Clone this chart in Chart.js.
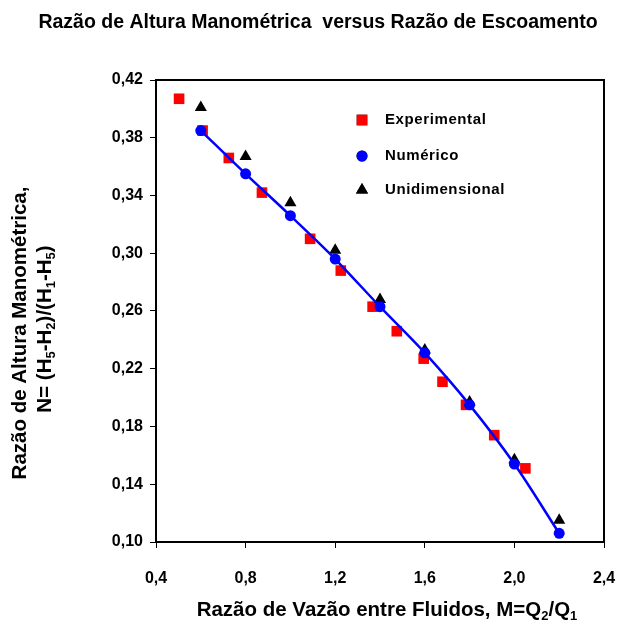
<!DOCTYPE html>
<html>
<head>
<meta charset="utf-8">
<script src="https://cdn.jsdelivr.net/npm/chart.js@4/dist/chart.umd.min.js"></script>
<style>
  body { margin: 0; background: #fff; }
  canvas { display: block; }
</style>
</head>
<body>
<canvas id="chart" width="631" height="626"></canvas>
<script>
// M = Q2/Q1 and N = (H5-H2)/(H1-H5)
const experimentalX = [0.503, 0.608, 0.725, 0.873, 1.088, 1.225, 1.367, 1.475, 1.595, 1.679, 1.784, 1.910, 2.049];
const experimentalY = [0.407, 0.385, 0.366, 0.342, 0.310, 0.288, 0.263, 0.246, 0.227, 0.211, 0.195, 0.174, 0.151];
const numericoX = [0.6, 0.8, 1.0, 1.2, 1.4, 1.6, 1.8, 2.0, 2.2];
const numericoY = [0.385, 0.355, 0.326, 0.296, 0.263, 0.231, 0.195, 0.154, 0.106];
const unidimX = [0.6, 0.8, 1.0, 1.2, 1.4, 1.6, 1.8, 2.0, 2.2];
const unidimY = [0.401, 0.367, 0.335, 0.302, 0.268, 0.233, 0.197, 0.157, 0.115];
const seriesNames = ['Experimental', 'Numérico', 'Unidimensional'];

const FONT = '"Liberation Sans", Arial, sans-serif';

function toPoints(xs, ys) {
    return xs.map((x, i) => ({ x: x, y: ys[i] }));
}

function commaFmt(digits) {
    return v => Number(v).toFixed(digits).replace('.', ',');
}

// draws text made of normal and subscript pieces, centred on cx
function drawRich(ctx, parts, cx, cy, size) {
    const subSize = Math.round(size * 0.62);
    let total = 0;
    parts.forEach(p => {
        ctx.font = 'bold ' + (p.sub ? subSize : size) + 'px ' + FONT;
        p.w = ctx.measureText(p.t).width;
        total += p.w;
    });
    let x = cx - total / 2;
    ctx.textAlign = 'left';
    ctx.textBaseline = 'middle';
    parts.forEach(p => {
        ctx.font = 'bold ' + (p.sub ? subSize : size) + 'px ' + FONT;
        ctx.fillText(p.t, x, p.sub ? cy + size * 0.3 : cy);
        x += p.w;
    });
}

const decorations = {
    id: 'decorations',
    afterDraw(chart) {
        const ctx = chart.ctx;
        const area = chart.chartArea;
        ctx.save();
        ctx.fillStyle = '#000';

        // frame round the plot
        ctx.strokeStyle = '#000';
        ctx.lineWidth = 2;
        ctx.strokeRect(area.left, area.top, area.right - area.left, area.bottom - area.top);

        // title
        ctx.font = 'bold 19.5px ' + FONT;
        ctx.textAlign = 'center';
        ctx.textBaseline = 'middle';
        ctx.fillText('Razão de Altura Manométrica  versus Razão de Escoamento', 318, 23);

        // x axis title
        drawRich(ctx, [
            { t: 'Razão de Vazão entre Fluidos, M=Q' }, { t: '2', sub: true },
            { t: '/Q' }, { t: '1', sub: true }
        ], 387, 610, 20.5);

        // y axis title, two lines
        ctx.save();
        ctx.translate(20, 333);
        ctx.rotate(-Math.PI / 2);
        drawRich(ctx, [{ t: 'Razão de Altura Manométrica,' }], 0, 0, 20.5);
        ctx.restore();
        ctx.save();
        ctx.translate(45, 329);
        ctx.rotate(-Math.PI / 2);
        drawRich(ctx, [
            { t: 'N= (H' }, { t: '5', sub: true }, { t: '-H' }, { t: '2', sub: true },
            { t: ')/(H' }, { t: '1', sub: true }, { t: '-H' }, { t: '5', sub: true }, { t: ')' }
        ], 0, 0, 20.5);
        ctx.restore();

        // legend inside the plot
        const rows = [120, 156, 190];
        chart.data.datasets.forEach((ds, i) => {
            Chart.helpers.drawPoint(ctx, {
                pointStyle: ds.pointStyle,
                radius: ds.pointRadius,
                borderWidth: 0
            }, 362, rows[i]);
            ctx.fillStyle = ds.pointBackgroundColor;
            ctx.fill();
            ctx.fillStyle = '#000';
            ctx.font = 'bold 15px ' + FONT;
            ctx.letterSpacing = '0.6px';
            ctx.textAlign = 'left';
            ctx.textBaseline = 'middle';
            ctx.fillText(seriesNames[i], 385, rows[i]);
            ctx.letterSpacing = '0px';
        });
        ctx.restore();
    }
};

new Chart(document.getElementById('chart').getContext('2d'), {
    type: 'scatter',
    data: {
        datasets: [
            {
                label: seriesNames[0],
                data: toPoints(experimentalX, experimentalY),
                pointStyle: 'rect',
                pointRadius: 7.5,
                pointBackgroundColor: '#ff0000',
                pointBorderWidth: 0,
                order: 3
            },
            {
                label: seriesNames[1],
                data: toPoints(numericoX, numericoY),
                pointStyle: 'circle',
                pointRadius: 5.5,
                pointBackgroundColor: '#0000ff',
                pointBorderWidth: 0,
                showLine: true,
                borderColor: '#0000ff',
                borderWidth: 2.5,
                tension: 0.3,
                order: 1
            },
            {
                label: seriesNames[2],
                data: toPoints(unidimX, unidimY),
                pointStyle: 'triangle',
                pointRadius: 7,
                pointBackgroundColor: '#000000',
                pointBorderWidth: 0,
                order: 2
            }
        ]
    },
    options: {
        responsive: false,
        animation: false,
        layout: { padding: { top: 80, right: 27, left: 0, bottom: 0 } },
        plugins: {
            legend: { display: false },
            title: { display: false },
            tooltip: { enabled: false }
        },
        scales: {
            x: {
                type: 'linear',
                min: 0.4,
                max: 2.4,
                afterFit: s => { s.height = 84; s.paddingLeft = 0; s.paddingRight = 0; },
                border: { display: true, color: '#000', width: 2 },
                grid: { drawOnChartArea: false, drawTicks: true, tickLength: 6, color: '#000' },
                ticks: {
                    stepSize: 0.4,
                    padding: 21,
                    color: '#000',
                    font: { family: FONT, size: 16, weight: 'bold' },
                    callback: commaFmt(1)
                }
            },
            y: {
                type: 'linear',
                min: 0.10,
                max: 0.42,
                afterFit: s => { s.width = 156; s.paddingTop = 0; s.paddingBottom = 0; },
                border: { display: true, color: '#000', width: 2 },
                grid: { drawOnChartArea: false, drawTicks: true, tickLength: 6, color: '#000' },
                ticks: {
                    stepSize: 0.04,
                    padding: 7,
                    color: '#000',
                    font: { family: FONT, size: 16, weight: 'bold' },
                    callback: commaFmt(2)
                }
            }
        }
    },
    plugins: [decorations]
});
</script>
</body>
</html>
